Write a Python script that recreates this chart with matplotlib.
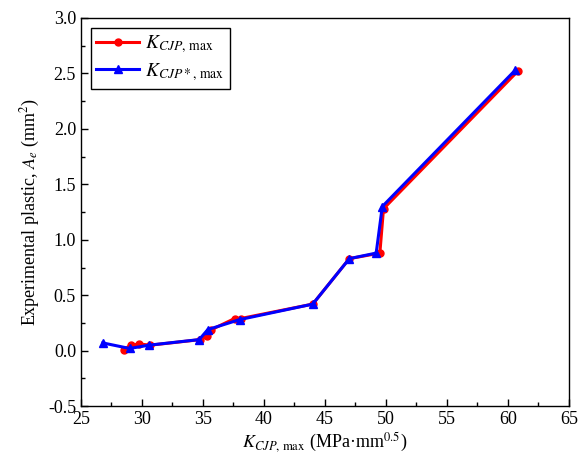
import numpy as np
from matplotlib import pyplot as plt

plt.rcParams["font.family"] = ["Liberation Serif", "DejaVu Serif"]
plt.rcParams["mathtext.fontset"] = "stix"
plt.rcParams["axes.unicode_minus"] = False

# K_CJP,max (red) data
k_cjp = [28.5, 29.1, 29.8, 30.7, 34.8, 35.3, 35.7, 37.6, 38.1, 44.0, 47.0, 49.5, 49.8, 60.8]
a_cjp = [0.01, 0.05, 0.06, 0.05, 0.10, 0.13, 0.19, 0.29, 0.29, 0.42, 0.83, 0.88, 1.28, 2.52]

# K_CJP*,max (blue) data
k_star = [26.8, 29.0, 30.6, 34.7, 35.4, 38.0, 44.0, 47.0, 49.2, 49.7, 60.6]
a_star = [0.07, 0.02, 0.05, 0.10, 0.19, 0.28, 0.42, 0.83, 0.88, 1.30, 2.53]

fig = plt.figure(figsize=(5.86, 4.61), dpi=100)
ax = fig.add_axes([0.138, 0.119, 0.833, 0.842])

ax.plot(k_cjp, a_cjp, color="red", lw=2.2, marker="o", ms=5,
        label=r"$K_{CJP,\,\mathrm{max}}$")
ax.plot(k_star, a_star, color="blue", lw=2.2, marker="^", ms=6,
        label=r"$K_{CJP*,\,\mathrm{max}}$")

ax.set_xlim(25, 65)
ax.set_ylim(-0.5, 3.0)
ax.set_xticks(np.arange(25, 66, 5))
ax.set_yticks(np.arange(-0.5, 3.01, 0.5))
ax.set_xticks(np.arange(27.5, 65, 5), minor=True)
ax.set_yticks(np.arange(-0.25, 3.0, 0.5), minor=True)
ax.yaxis.set_major_formatter(plt.FuncFormatter(lambda v, p: f"{v:.1f}"))
ax.tick_params(which="both", direction="in", top=False, right=False, labelsize=13)
ax.tick_params(which="major", length=5, width=1)
ax.tick_params(which="minor", length=3, width=1)
for s in ax.spines.values():
    s.set_linewidth(1)

ax.set_xlabel(r"$K_{CJP,\,\mathrm{max}}$ (MPa·mm$^{0.5}$)", fontsize=13, labelpad=2)
ax.set_ylabel(r"Experimental plastic, $A_e$ (mm$^2$)", fontsize=13)

leg = ax.legend(loc="upper left", fontsize=14, fancybox=False, framealpha=1,
                edgecolor="black", handlelength=2.2, handletextpad=0.3,
                borderpad=0.3, labelspacing=0.3, borderaxespad=0.5)
leg.get_frame().set_linewidth(1)

plt.savefig("out.png", dpi=100)
plt.close()
